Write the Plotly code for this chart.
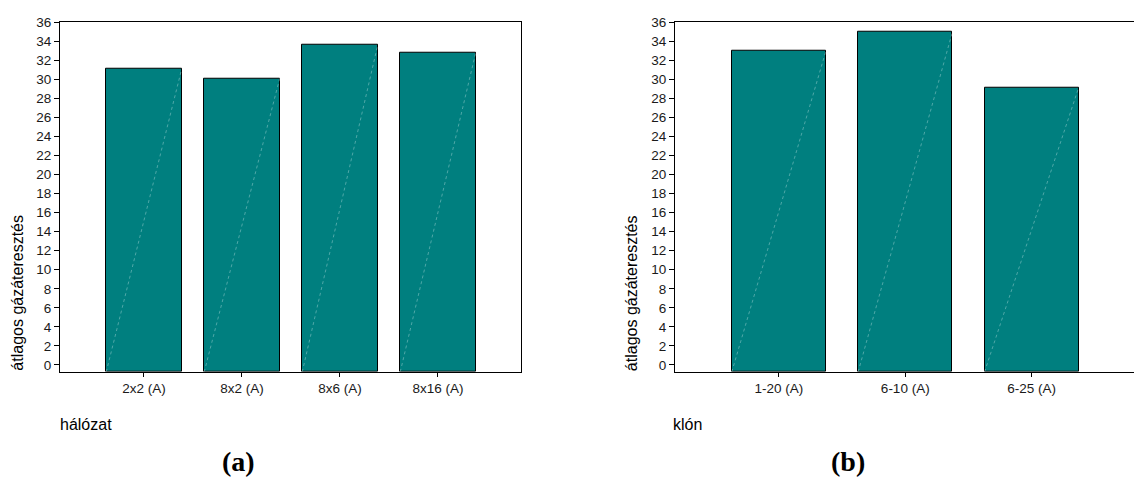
import plotly.graph_objects as go

# ---- data ----
cat_a = ["2x2 (A)", "8x2 (A)", "8x6 (A)", "8x16 (A)"]
val_a = [31.1, 30.1, 33.6, 32.8]
cat_b = ["1-20 (A)", "6-10 (A)", "6-25 (A)"]
val_b = [33.0, 34.95, 29.15]
y_ticks = list(range(0, 37, 2))
y_title = "átlagos gázáteresztés"
x_title_a = "hálózat"
x_title_b = "klón"
panel_a = "(a)"
panel_b = "(b)"

# ---- style ----
W, H = 1134, 479
TEAL = "#007F7F"
FONT = "Liberation Sans, Arial, sans-serif"
Y_MIN, Y_MAX = -0.72, 36.05
BW_A, BW_B = 0.77, 0.745

fig = go.Figure()

def add_panel(cats, vals, bw, xa, ya):
    xs = list(range(len(cats)))
    fig.add_trace(go.Bar(
        x=xs, y=[v - Y_MIN for v in vals], base=Y_MIN, width=bw,
        marker=dict(color=TEAL, line=dict(color="black", width=1)),
        xaxis=xa, yaxis=ya, showlegend=False, hoverinfo="skip"))
    # faint diagonal artifact inside each bar
    for i, v in zip(xs, vals):
        fig.add_trace(go.Scatter(
            x=[i - bw / 2, i + bw / 2], y=[Y_MIN, v], mode="lines",
            line=dict(color="rgba(190,225,225,0.6)", width=0.7, dash="dot"),
            xaxis=xa, yaxis=ya, showlegend=False, hoverinfo="skip"))

add_panel(cat_a, val_a, BW_A, "x", "y")
add_panel(cat_b, val_b, BW_B, "x2", "y2")

ytop = 1 - 15 / H
ybot = 1 - 371 / H

axis_common = dict(showgrid=False, zeroline=False, showline=True,
                   linecolor="black", linewidth=1, ticks="outside",
                   tickcolor="black", tickwidth=1,
                   tickfont=dict(family=FONT, size=13.5, color="#1a1a1a"))

fig.update_layout(
    width=W, height=H, margin=dict(l=0, r=0, t=0, b=0),
    paper_bgcolor="white", plot_bgcolor="white",
    bargap=0,
    xaxis=dict(domain=[60 / W, 521 / W], range=[-0.857, 3.847],
               tickvals=list(range(len(cat_a))), ticktext=cat_a,
               ticklen=4, mirror=True, anchor="y", **axis_common),
    yaxis=dict(domain=[ybot, ytop], range=[Y_MIN, Y_MAX],
               tickvals=y_ticks, ticklen=5, mirror=True, anchor="x",
               **axis_common),
    xaxis2=dict(domain=[675 / W, 1.0], range=[-0.822, 2.81],
                tickvals=list(range(len(cat_b))), ticktext=cat_b,
                ticklen=4, mirror=True, anchor="y2", **axis_common),
    yaxis2=dict(domain=[ybot, ytop], range=[Y_MIN, Y_MAX],
                tickvals=y_ticks, ticklen=5, mirror=False, anchor="x2",
                **axis_common),
)

ann_font = dict(family=FONT, size=16, color="black")
serif = dict(family="Liberation Serif, Times New Roman, serif", size=28,
             color="black")
annotations = [
    dict(text=y_title, x=17.5 / W, y=1 - 291 / H, xref="paper", yref="paper",
         textangle=-90, showarrow=False, font=ann_font,
         xanchor="center", yanchor="middle"),
    dict(text=y_title, x=631 / W, y=1 - 291 / H, xref="paper", yref="paper",
         textangle=-90, showarrow=False, font=ann_font,
         xanchor="center", yanchor="middle"),
    dict(text=x_title_a, x=58 / W, y=1 - 425 / H, xref="paper", yref="paper",
         showarrow=False, font=ann_font, xanchor="left", yanchor="middle"),
    dict(text=x_title_b, x=671 / W, y=1 - 425 / H, xref="paper", yref="paper",
         showarrow=False, font=ann_font, xanchor="left", yanchor="middle"),
    dict(text="<b>" + panel_a + "</b>", x=238 / W, y=1 - 462 / H,
         xref="paper", yref="paper", showarrow=False, font=serif,
         xanchor="center", yanchor="middle"),
    dict(text="<b>" + panel_b + "</b>", x=848 / W, y=1 - 462 / H,
         xref="paper", yref="paper", showarrow=False, font=serif,
         xanchor="center", yanchor="middle"),
]
fig.update_layout(annotations=annotations)

fig.write_html("out.html")
